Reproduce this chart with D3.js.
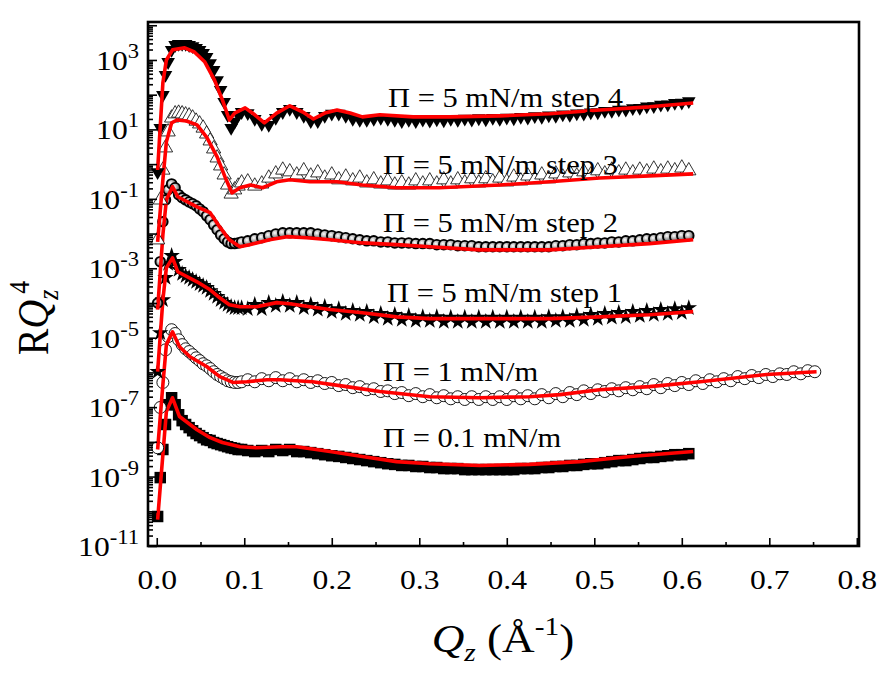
<!DOCTYPE html>
<html>
<head>
<meta charset="utf-8">
<script src="https://cdn.jsdelivr.net/npm/d3@7"></script>
<style>
  body { margin: 0; background: #fff; }
  svg { display: block; }
  text { font-family: "Liberation Serif", "Times New Roman", serif; fill: #000; }
</style>
</head>
<body>
<svg id="chart" width="884" height="678"></svg>
<script>
// Q grid (1/A) shared by the measured curves
qLow = [0.001,0.004,0.007,0.010,0.013,0.017,0.021,0.025,0.029,0.033,0.037,0.041,0.045,
  0.049,0.053,0.057,0.061,0.065,0.069,0.073,0.077,0.081,0.085,0.089,0.093,0.097];
qTail = [0.104,0.112,0.120,0.128,0.136,0.144,0.152,0.160,0.168,0.176,0.184,0.192,0.200,
  0.208,0.216,0.224,0.232,0.240,0.248,0.256,0.264,0.272,0.280,0.288,0.296,0.304,0.312,
  0.320,0.328,0.336,0.344,0.352,0.360,0.368,0.376,0.384,0.392,0.400,0.408,0.416,0.424,
  0.432,0.440,0.448,0.456,0.464,0.472,0.480,0.488,0.496,0.504,0.512,0.520,0.528,0.536,
  0.544,0.552,0.560,0.568,0.576,0.584,0.592,0.600,0.608];
qExtra = [0.616,0.624,0.632,0.640,0.648,0.656,0.664,0.672,0.680,0.688,0.696,0.704,0.712,
  0.720,0.728,0.736,0.744,0.752];

// measured points, log10(R Qz^4)
step4Marks = [-0.23,1.04,1.99,2.57,2.94,3.29,3.43,3.46,3.46,3.46,3.43,3.40,3.35,3.29,3.20,3.09,
  2.91,2.71,2.42,2.14,1.79,1.42,1.04,1.22,1.42,1.50,
  1.47,1.30,1.16,1.13,1.33,1.50,1.59,1.50,1.39,1.24,1.24,1.39,1.45,1.45,1.39,1.30,1.27,1.27,
  1.30,1.33,1.30,1.27,1.24,1.27,1.24,1.28,1.25,1.29,1.26,1.30,1.27,1.31,1.28,1.32,1.29,1.33,
  1.30,1.34,1.32,1.36,1.34,1.38,1.36,1.40,1.39,1.43,1.42,1.46,1.45,1.49,1.49,1.53,1.53,1.57,
  1.57,1.61,1.62,1.66,1.67,1.71,1.72,1.76,1.77,1.81];
step3Marks = [-2.18,-1.03,-0.17,0.47,0.93,1.33,1.45,1.47,1.45,1.42,1.39,1.33,1.24,1.16,1.04,
  0.87,0.67,0.44,0.18,-0.05,-0.31,-0.60,-0.86,-0.74,-0.63,-0.54,
  -0.51,-0.63,-0.57,-0.40,-0.28,-0.17,-0.22,-0.31,-0.19,-0.34,-0.25,-0.40,-0.31,-0.45,-0.37,
  -0.48,-0.40,-0.54,-0.45,-0.57,-0.48,-0.60,
  -0.54,-0.60,-0.48,-0.57,-0.48,-0.57,-0.45,-0.57,-0.45,-0.54,-0.42,-0.54,-0.42,-0.51,-0.40,
  -0.51,-0.37,-0.48,-0.34,-0.45,-0.31,-0.42,-0.28,-0.37,-0.25,-0.34,-0.22,-0.31,-0.19,-0.28,
  -0.17,-0.25,-0.17,-0.25,-0.17,-0.22,-0.14,-0.22,-0.14,-0.19,-0.11,-0.19];
step2Marks = [-4.00,-2.81,-1.66,-1.03,-0.74,-0.57,-0.68,-0.88,-0.97,-1.03,-1.09,-1.14,-1.20,
  -1.29,-1.37,-1.49,-1.60,-1.75,-1.89,-2.04,-2.15,-2.24,-2.29,-2.29,-2.27,-2.24,
  -2.21,-2.15,-2.12,-2.06,-2.01,-1.98,-1.98,-1.98,-1.98,-1.98,-2.01,-2.04,-2.06,-2.09,-2.12,
  -2.15,-2.18,-2.21,-2.21,-2.24,-2.24,-2.27,-2.27,-2.27,-2.29,-2.29,-2.29,-2.32,-2.32,-2.32,
  -2.35,-2.35,-2.35,-2.38,-2.38,-2.38,-2.38,-2.38,-2.38,-2.38,-2.38,-2.38,-2.38,-2.38,
  -2.35,-2.35,-2.32,-2.32,-2.29,-2.29,-2.27,-2.27,-2.24,-2.24,-2.21,-2.21,-2.18,-2.15,-2.15,
  -2.12,-2.09,-2.09,-2.06,-2.06];
step1Marks = [-5.98,-4.86,-3.91,-3.27,-2.87,-2.64,-2.81,-3.04,-3.16,-3.22,-3.27,-3.33,-3.39,
  -3.45,-3.50,-3.56,-3.65,-3.73,-3.82,-3.91,-3.99,-4.05,-4.11,-4.14,-4.14,-4.14,
  -4.17,-4.05,-4.17,-3.99,-4.08,-3.96,-4.08,-3.99,-4.14,-4.05,-4.19,-4.11,-4.25,-4.17,-4.31,
  -4.22,-4.34,-4.25,-4.40,-4.31,-4.45,-4.34,-4.48,-4.37,-4.51,-4.40,-4.51,-4.40,-4.54,-4.42,
  -4.54,-4.42,-4.54,-4.42,-4.54,-4.42,-4.54,-4.42,-4.54,-4.42,-4.54,-4.42,-4.54,-4.40,-4.51,
  -4.40,-4.51,-4.37,-4.48,-4.34,-4.45,-4.31,-4.42,-4.28,-4.40,-4.25,-4.37,-4.22,-4.34,-4.19,
  -4.31,-4.17,-4.28,-4.14];
p1Marks = [-8.17,-7.01,-6.29,-5.35,-4.97,-4.77,-4.88,-5.06,-5.20,-5.32,-5.40,-5.49,-5.58,-5.66,
  -5.75,-5.81,-5.89,-5.98,-6.06,-6.12,-6.18,-6.24,-6.27,-6.29,-6.29,-6.27,
  -6.21,-6.27,-6.18,-6.24,-6.15,-6.24,-6.18,-6.27,-6.21,-6.29,-6.24,-6.32,-6.29,-6.38,-6.35,
  -6.44,-6.41,-6.50,-6.47,-6.55,-6.53,-6.61,-6.58,-6.67,-6.61,-6.70,-6.64,-6.73,-6.67,-6.76,
  -6.70,-6.78,-6.70,-6.78,-6.70,-6.78,-6.70,-6.78,-6.67,-6.76,-6.67,-6.76,-6.64,-6.73,-6.61,
  -6.70,-6.58,-6.64,-6.53,-6.61,-6.50,-6.55,-6.47,-6.53,-6.44,-6.50,-6.41,-6.47,-6.35,-6.44,
  -6.32,-6.38,-6.29,-6.35,
  -6.24,-6.32,-6.21,-6.27,-6.18,-6.24,-6.12,-6.18,-6.09,-6.15,-6.06,-6.12,-6.04,-6.06,-5.98,
  -6.04,-5.95,-5.98];
p01Marks = [-10.15,-9.03,-8.22,-7.50,-6.93,-6.73,-6.93,-7.22,-7.39,-7.50,-7.59,-7.68,-7.76,
  -7.82,-7.88,-7.94,-7.96,-8.02,-8.05,-8.08,-8.11,-8.14,-8.17,-8.19,-8.22,-8.22,
  -8.25,-8.28,-8.25,-8.28,-8.22,-8.25,-8.22,-8.28,-8.28,-8.31,-8.34,-8.37,-8.40,-8.42,-8.45,
  -8.48,-8.51,-8.54,-8.57,-8.60,-8.63,-8.65,-8.68,-8.68,-8.71,-8.71,-8.74,-8.74,-8.77,-8.77,
  -8.77,-8.80,-8.80,-8.80,-8.80,-8.80,-8.80,-8.80,-8.80,-8.77,-8.77,-8.77,-8.74,-8.74,-8.71,
  -8.71,-8.68,-8.68,-8.65,-8.63,-8.63,-8.60,-8.57,-8.54,-8.54,-8.51,-8.48,-8.45,-8.45,-8.42,
  -8.40,-8.37,-8.37,-8.34];

// fitted curves [q, log10(R Qz^4)]
step4Fit = [[0.001,-0.17],[0.007,2.34],[0.011,3.00],[0.018,3.29],[0.032,3.35],[0.043,3.23],
  [0.055,2.94],[0.066,2.42],[0.075,1.85],[0.083,1.27],[0.089,1.47],[0.101,1.62],[0.112,1.42],
  [0.123,1.19],[0.137,1.47],[0.152,1.68],[0.167,1.50],[0.179,1.30],[0.192,1.47],[0.206,1.56],
  [0.221,1.47],[0.235,1.36],[0.255,1.42],[0.293,1.36],[0.335,1.36],[0.392,1.39],[0.449,1.45],
  [0.506,1.56],[0.563,1.65],[0.613,1.76]];
step3Fit = [[0.001,-2.24],[0.007,-0.45],[0.011,0.64],[0.017,1.19],[0.023,1.27],[0.034,1.24],
  [0.046,1.13],[0.057,0.78],[0.069,0.21],[0.078,-0.37],[0.086,-0.83],[0.095,-0.68],
  [0.107,-0.60],[0.121,-0.68],[0.137,-0.51],[0.152,-0.45],[0.175,-0.51],[0.206,-0.51],
  [0.235,-0.60],[0.274,-0.68],[0.323,-0.68],[0.392,-0.60],[0.449,-0.51],[0.506,-0.40],
  [0.563,-0.34],[0.613,-0.28]];
step2Fit = [[0.001,-4.19],[0.007,-2.04],[0.011,-1.03],[0.018,-0.65],[0.024,-0.94],[0.046,-1.23],
  [0.061,-1.40],[0.072,-1.81],[0.083,-2.18],[0.095,-2.38],[0.106,-2.32],[0.129,-2.18],
  [0.149,-2.09],[0.171,-2.12],[0.198,-2.18],[0.235,-2.27],[0.274,-2.32],[0.312,-2.38],
  [0.369,-2.47],[0.449,-2.47],[0.506,-2.38],[0.563,-2.29],[0.613,-2.18]];
step1Fit = [[0.001,-5.98],[0.007,-3.91],[0.011,-2.99],[0.018,-2.70],[0.024,-3.10],[0.046,-3.39],
  [0.061,-3.62],[0.072,-3.85],[0.083,-4.05],[0.095,-4.11],[0.114,-4.11],[0.137,-3.99],
  [0.152,-4.02],[0.175,-4.11],[0.198,-4.19],[0.235,-4.28],[0.274,-4.40],[0.312,-4.45],
  [0.369,-4.45],[0.449,-4.45],[0.506,-4.40],[0.563,-4.34],[0.613,-4.25]];
p1Fit = [[0.001,-8.22],[0.007,-6.35],[0.011,-5.20],[0.018,-4.83],[0.026,-5.26],[0.038,-5.55],
  [0.057,-5.83],[0.072,-6.12],[0.087,-6.29],[0.103,-6.27],[0.126,-6.21],[0.141,-6.21],
  [0.178,-6.27],[0.217,-6.41],[0.255,-6.55],[0.312,-6.70],[0.369,-6.73],[0.426,-6.70],
  [0.461,-6.64],[0.506,-6.50],[0.563,-6.41],[0.621,-6.27],[0.697,-6.06],[0.754,-5.98]];
p01Fit = [[0.001,-10.24],[0.007,-8.37],[0.011,-7.13],[0.018,-6.73],[0.026,-7.27],[0.046,-7.65],
  [0.061,-7.88],[0.075,-8.02],[0.095,-8.14],[0.114,-8.17],[0.141,-8.14],[0.160,-8.14],
  [0.198,-8.28],[0.235,-8.42],[0.274,-8.57],[0.312,-8.63],[0.369,-8.68],[0.426,-8.65],
  [0.483,-8.57],[0.541,-8.42],[0.613,-8.28]];

labelTexts = ["\u03A0 = 5 mN/m step 4","\u03A0 = 5 mN/m step 3","\u03A0 = 5 mN/m step 2",
  "\u03A0 = 5 mN/m step 1","\u03A0 = 1 mN/m","\u03A0 = 0.1 mN/m"];
xTicks = [0,0.1,0.2,0.3,0.4,0.5,0.6,0.7,0.8];
xMinor = [0.05,0.15,0.25,0.35,0.45,0.55,0.65,0.75];
yLabelExps = [-11,-9,-7,-5,-3,-1,1,3];

qMain = qLow.concat(qTail);
qLong = qMain.concat(qExtra);

const svg = d3.select("#chart");
const x = d3.scaleLinear().domain([-0.01, 0.8025]).range([148, 859]);
const y = d3.scaleLog().domain([1e-11, Math.pow(10, 4.0935)]).range([546, 22]);
const TX = 1.13; // the original is stretched a little horizontally

const defs = svg.append("defs");
const grad = defs.append("radialGradient").attr("id","ball").attr("cx","40%").attr("cy","40%").attr("r","60%");
grad.append("stop").attr("offset","0%").attr("stop-color","#ffffff");
grad.append("stop").attr("offset","50%").attr("stop-color","#b0b0b0");
grad.append("stop").attr("offset","100%").attr("stop-color","#5a5a5a");

const series = [
  {marks: p01Marks, q: qMain, fit: p01Fit, kind: "square"},
  {marks: p1Marks, q: qLong, fit: p1Fit, kind: "open"},
  {marks: step1Marks, q: qMain, fit: step1Fit, kind: "star"},
  {marks: step2Marks, q: qMain, fit: step2Fit, kind: "ball"},
  {marks: step3Marks, q: qMain, fit: step3Fit, kind: "up"},
  {marks: step4Marks, q: qMain, fit: step4Fit, kind: "down"}
];

const line = d3.line()
  .x(d => x(d[0]))
  .y(d => y(Math.pow(10, d[1])));

const plot = svg.append("g");
series.forEach(s => {
  const pts = s.marks.map((v, i) => [s.q[i], v]);
  const g = plot.append("g");
  const m = g.selectAll("g").data(pts).enter().append("g")
    .attr("transform", d => "translate(" + x(d[0]) + "," + y(Math.pow(10, d[1])) + ")");
  if (s.kind == "square") {
    m.append("path").attr("d", d3.symbol().type(d3.symbolSquare).size(132)).attr("fill","#000");
  } else if (s.kind == "open") {
    m.append("circle").attr("r",6).attr("fill","#fff").attr("stroke","#000").attr("stroke-width",0.9);
  } else if (s.kind == "star") {
    m.append("path").attr("d", d3.symbol().type(d3.symbolStar).size(85)).attr("fill","#000");
  } else if (s.kind == "ball") {
    m.append("circle").attr("r",4.8).attr("fill","url(#ball)").attr("stroke","#000").attr("stroke-width",1.9);
  } else if (s.kind == "up") {
    m.append("path").attr("d", d3.symbol().type(d3.symbolTriangle).size(88))
      .attr("fill","#fff").attr("stroke","#000").attr("stroke-width",0.8);
  } else {
    m.append("path").attr("d", d3.symbol().type(d3.symbolTriangle).size(80))
      .attr("transform","rotate(180)").attr("fill","#000");
  }
  g.append("path").datum(s.fit)
    .attr("d", line)
    .attr("fill","none")
    .attr("stroke","#ff0000")
    .attr("stroke-width",3.6)
    .attr("stroke-linejoin","round");
});

// curve labels
const labelPos = [[388,107],[383,174],[383,232],[387,302],[383,381],[383,447]];
svg.selectAll(".clabel").data(labelTexts).enter().append("text")
  .attr("class","clabel")
  .attr("transform",(d,i) => "translate(" + labelPos[i][0] + "," + labelPos[i][1] + ") scale(" + TX + ",1)")
  .style("font-size","27px")
  .text(d => d);

// ticks
let majorY = [], minorY = [];
for (let e = -11; e <= 4; e++) {
  majorY.push(Math.pow(10, e));
  if (e < 4) for (let k = 2; k <= 9; k++) minorY.push(k * Math.pow(10, e));
}
const axY = svg.append("g").attr("transform","translate(148,0)");
axY.append("g").call(d3.axisLeft(y).tickValues(majorY).tickSize(-9).tickFormat(""));
axY.append("g").call(d3.axisLeft(y).tickValues(minorY).tickSize(-5).tickFormat(""));
axY.selectAll(".domain").remove();
axY.selectAll("line").attr("stroke","#000").attr("stroke-width",1.6);

const axX = svg.append("g").attr("transform","translate(0,546)");
axX.append("g").call(d3.axisBottom(x).tickValues(xTicks).tickSize(-8).tickFormat(d3.format(".1f")));
axX.append("g").call(d3.axisBottom(x).tickValues(xMinor).tickSize(-4).tickFormat(""));
axX.selectAll(".domain").remove();
axX.selectAll("line").attr("stroke","#000").attr("stroke-width",1.6);
axX.selectAll("text")
  .attr("y", 43).attr("dy", null)
  .attr("transform","scale(" + TX + ",1)")
  .attr("fill","#000")
  .style("font-size","28px")
  .style("font-family","'Liberation Serif', serif");

// y tick labels with superscript exponents
const yl = svg.selectAll(".ylab").data(yLabelExps).enter().append("text")
  .attr("class","ylab")
  .attr("text-anchor","end")
  .attr("transform", d => "translate(139," + (y(Math.pow(10, d)) + 10) + ") scale(" + TX + ",1)")
  .style("font-size","28px");
yl.append("tspan").text("10");
yl.append("tspan").attr("dy",-12).style("font-size","20px").text(d => String(d));

// frame
svg.append("rect")
  .attr("x",148).attr("y",22).attr("width",711).attr("height",524)
  .attr("fill","none").attr("stroke","#000").attr("stroke-width",2.6);

// axis titles
const yt = svg.append("text")
  .attr("text-anchor","middle")
  .attr("transform","translate(48,318) rotate(-90) scale(1," + TX + ")")
  .style("font-size","40px");
yt.append("tspan").text("R");
yt.append("tspan").style("font-style","italic").text("Q");
yt.append("tspan").style("font-style","italic").style("font-size","26px").attr("dy",9).text("z");
yt.append("tspan").style("font-size","26px").attr("dx",-4).attr("dy",-26).text("4");

const xt = svg.append("text")
  .attr("text-anchor","middle")
  .attr("transform","translate(503,652) scale(" + TX + ",1)")
  .style("font-size","40px");
xt.append("tspan").style("font-style","italic").text("Q");
xt.append("tspan").style("font-style","italic").style("font-size","26px").attr("dy",9).text("z");
xt.append("tspan").attr("dy",-9).text(" (\u00C5");
xt.append("tspan").style("font-size","26px").attr("dy",-17).text("-1");
xt.append("tspan").attr("dy",17).text(")");
</script>
</body>
</html>
